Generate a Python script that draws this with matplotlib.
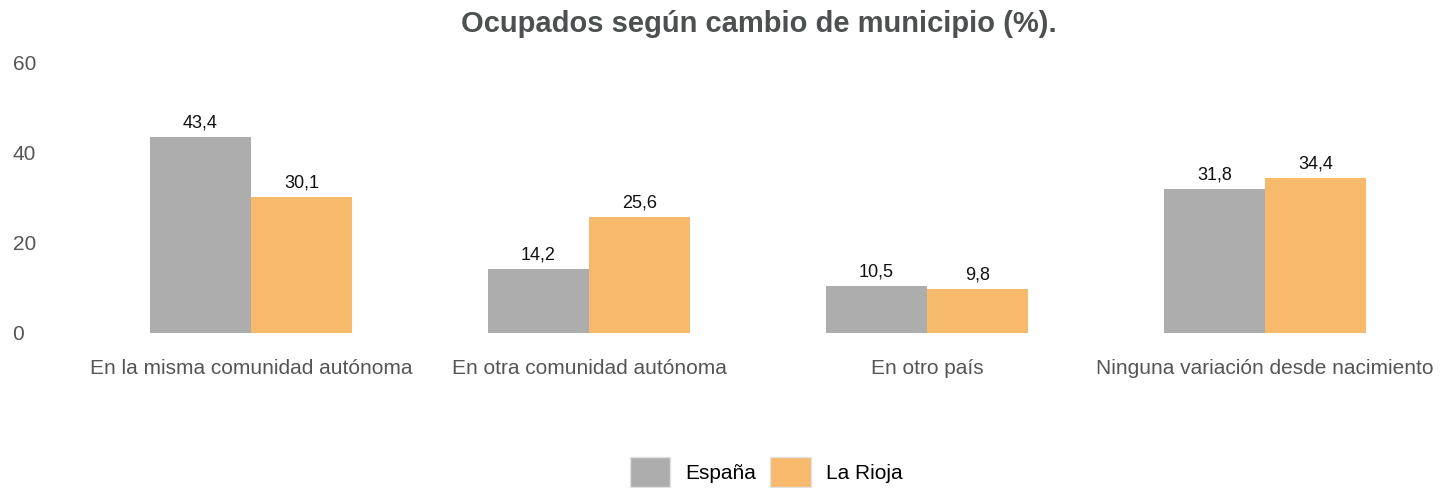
import numpy as np
import matplotlib.pyplot as plt
from matplotlib.patches import Patch

plt.rcParams['font.family'] = ['Liberation Sans', 'DejaVu Sans']

categories = ["En la misma comunidad autónoma", "En otra comunidad autónoma",
              "En otro país", "Ninguna variación desde nacimiento"]
espana = [43.4, 14.2, 10.5, 31.8]
rioja = [30.1, 25.6, 9.8, 34.4]
series_names = ["España", "La Rioja"]
colors = ["#adadad", "#f7b96b"]

W, H = 1440, 488
fig = plt.figure(figsize=(W / 100, H / 100), dpi=100)
ax = fig.add_axes([82 / W, 1 - 333 / H, (1434 - 82) / W, (333 - 62) / H])

x = np.arange(len(categories))
bw = 0.3
for vals, off, c in [(espana, -bw / 2, colors[0]), (rioja, bw / 2, colors[1])]:
    bars = ax.bar(x + off, vals, width=bw, color=c, edgecolor="none")
    for b, v in zip(bars, vals):
        ax.text(b.get_x() + b.get_width() / 2, v + 1.2, f"{v:.1f}".replace(".", ","),
                ha="center", va="bottom", fontsize=13, color="#111111")

ax.set_xlim(-0.5, len(categories) - 0.5)
ax.set_ylim(0, 60)
ax.set_yticks([0, 20, 40, 60])
ax.set_yticklabels(["0", "20", "40", "60"], fontsize=15, color="#555555", ha="left")
ax.tick_params(axis="y", length=0, pad=50)
ax.set_xticks(x)
ax.set_xticklabels(categories, fontsize=15, color="#555555")
ax.tick_params(axis="x", length=0, pad=19)
for s in ax.spines.values():
    s.set_visible(False)

fig.text(759 / W, 1 - 24 / H, "Ocupados según cambio de municipio (%).", ha="center",
         va="center", fontsize=21, fontweight="bold", color="#4d5050")

handles = [Patch(facecolor=c, edgecolor="#e2e2e2", lw=1) for c in colors]
fig.legend(handles, series_names, loc="center", bbox_to_anchor=(766 / W, 1 - 472 / H),
           ncol=2, frameon=False, fontsize=15, handlelength=1.95, handleheight=1.85,
           handletextpad=0.7, columnspacing=0.7)

fig.savefig("out.png", dpi=100)
